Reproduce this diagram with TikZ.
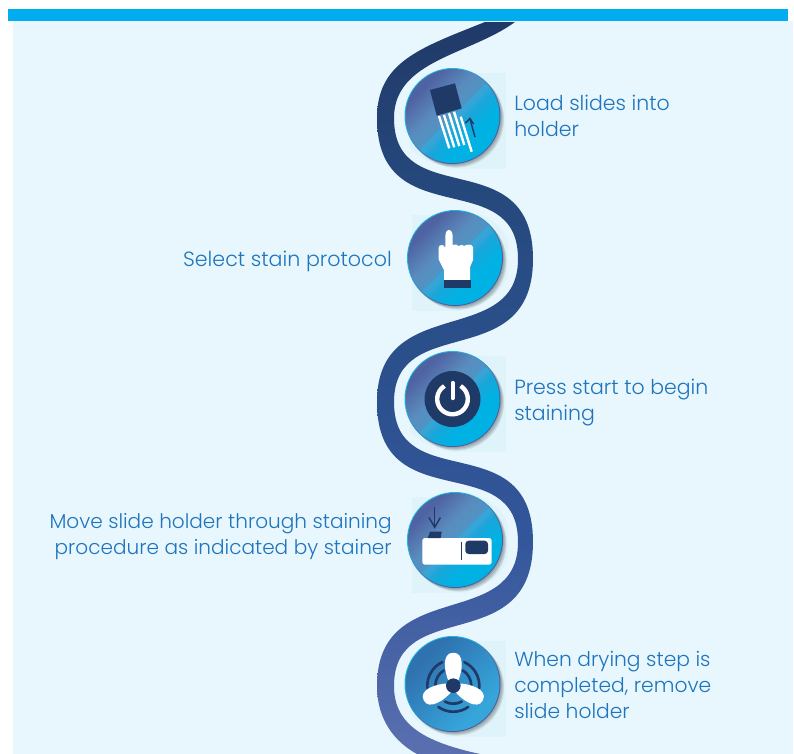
\documentclass[tikz,border=0pt]{standalone}
\usepackage{fontspec}
\setmainfont{Poppins}[UprightFont=* Light]
\usetikzlibrary{calc}
\definecolor{panelbg}{HTML}{E8F7FD}
\definecolor{barblue}{HTML}{00AEEF}
\definecolor{navy}{HTML}{203A68}
\definecolor{tile}{HTML}{DFF3FA}
\definecolor{txt}{HTML}{1F75BD}
\definecolor{rA}{HTML}{5A6FB0}\definecolor{rB}{HTML}{32569A}\definecolor{rC}{HTML}{264A7F}
\definecolor{dA}{HTML}{00B2E4}\definecolor{dB}{HTML}{18A6DA}\definecolor{dC}{HTML}{38A4D6}\definecolor{dD}{HTML}{34A6DA}\definecolor{dE}{HTML}{4F94C4}\definecolor{dF}{HTML}{5A8CBE}\definecolor{dG}{HTML}{4F62A2}
\definecolor{fA}{HTML}{36A6DA}\definecolor{fB}{HTML}{2F72B0}
\definecolor{mA}{HTML}{4F5CA0}\definecolor{mB}{HTML}{1EB6E0}
\pgfdeclareverticalshading{ribbonshade}{100bp}{
  color(0bp)=(rA);color(25bp)=(rA);color(40bp)=(rB);color(62bp)=(rC);color(75bp)=(navy);color(100bp)=(navy)}
\pgfdeclareverticalshading{discshade}{100bp}{
  color(0bp)=(dA);color(35bp)=(dA);color(44bp)=(dB);color(48bp)=(dC);color(49.5bp)=(dD);color(50.5bp)=(dE);color(58bp)=(dF);color(72bp)=(dG);color(100bp)=(dG)}
\pgfdeclareverticalshading{fanshade}{100bp}{
  color(0bp)=(fA);color(30bp)=(fA);color(70bp)=(fB);color(100bp)=(fB)}
\pgfdeclareverticalshading{rimshade}{100bp}{
  color(0bp)=(mA);color(35bp)=(mA);color(65bp)=(mB);color(100bp)=(mB)}
\tikzset{
  x=0.75pt,y=-0.75pt,
  tilebox/.style={fill=tile,draw=none},
  steplabel/.style={font=\fontsize{15.2pt}{19.5pt}\selectfont,text=txt,inner sep=0pt},
  icon/.style={fill=navy,draw=none},
  iconline/.style={draw=navy,line width=1.1pt},
  whiteline/.style={draw=white,line width=1.8pt},
  fanarc/.style={draw=navy,line width=2pt,line cap=round},
}
\newcommand{\steptile}[2]{\fill[tilebox] ($(#1,#2)+(-43,-43)$) rectangle ($(#1,#2)+(53,53)$);}
\newcommand{\stepdisc}[4]{% x y name shading
  \foreach \k in {1,...,4}{\fill[black,opacity=.09] ($(#1,#2)+(\k*.9,\k*.9)$) circle[radius=48];}
  \shade[shading=rimshade,shading angle=45] (#1,#2) circle[radius=48];
  \shade[shading=#4,shading angle=45] (#1,#2) coordinate (#3) circle[radius=47];
}
\begin{document}
\begin{tikzpicture}
\useasboundingbox (0,0) rectangle (794,754);
\fill[white] (0,0) rectangle (794,754);
\fill[panelbg] (13,21) rectangle (793,754);
\steptile{452.5}{116}
\steptile{455}{258}
\steptile{452.5}{399}
\steptile{455}{540}
\steptile{452.5}{684}
% ribbon
\shade[shading=ribbonshade,preaction={draw=panelbg,line width=12pt}]
  (485,22) .. controls (420,48) and (377,62) .. (377,118)
  .. controls (377,236) and (518,164) .. (518,259)
  .. controls (518,349) and (377,292) .. (377,402)
  .. controls (377,520) and (518,447) .. (518,542)
  .. controls (518,632) and (377,576) .. (377,686)
  .. controls (377,720) and (395,742) .. (417,754)
  -- (480,754)
  .. controls (425,742) and (394,725) .. (394,686)
  .. controls (394,595) and (533,659) .. (533,542)
  .. controls (533,424) and (394,497) .. (394,402)
  .. controls (394,311) and (533,375) .. (533,259)
  .. controls (533,141) and (394,213) .. (394,118)
  .. controls (394,60) and (470,55) .. (515,22)
  -- cycle;
\fill[barblue] (8,9) rectangle (788,21);
\fill[white] (0,0) rectangle (794,9);
% discs
\stepdisc{452.5}{116}{disca}{discshade}
\stepdisc{455}{258}{discb}{discshade}
\stepdisc{452.5}{399}{discc}{discshade}
\stepdisc{455}{540}{discd}{discshade}
\stepdisc{452.5}{684}{disce}{fanshade}
% icon 1
\fill[icon] (430,90) -- (455,83.3) -- (461.7,108.3) -- (436.7,115.7) -- cycle;
\foreach \a/\b/\c/\d in {439/116/449.3/148.3,444/115/454.3/147.3,449/113.3/459.3/146,454/111.7/464.3/145,460.7/116.7/471.7/151.7}{
  \draw[whiteline] (\a,\b) -- (\c,\d);}
\draw[iconline] (475,137) -- (470,119);
\draw[iconline] (465.5,123) -- (470,118.5) -- (473.5,124);
% icon 2
\fill[white] (445.5,250) .. controls (445.5,248) and (445,240) .. (445.5,235)
  .. controls (446,228) and (452,228) .. (452.5,235) -- (452.5,245)
  .. controls (456,244) and (458,245) .. (458.5,246)
  .. controls (461,244) and (463,245) .. (464,246)
  .. controls (467,244) and (472,244) .. (473,247)
  -- (473,260) -- (470,267) -- (470,281) -- (444,281) -- (444,270) -- (438.5,259) -- (438.5,248)
  .. controls (439,244) and (444,244) .. (445.5,248) -- cycle;
\fill[icon] (444,280) rectangle (471,287.5);
% icon 3
\fill[icon] (discc) circle[radius=28];
\draw[white,line width=3.3pt] ($(discc)+(-58:15.3)$) arc[start angle=-58,end angle=238,radius=15.3];
\draw[white,line width=3.3pt,line cap=round] (452.7,383) -- (452.7,398);
% icon 4
\fill[white,rounded corners=2pt] (422.3,538) rectangle (491.7,564.7);
\fill[icon,rounded corners=2.5pt] (465.3,540.7) rectangle (488,554);
\draw[iconline] (461.7,542) -- (461.7,560);
\fill[icon] (430,531.7) -- (441.7,531.7) -- (440.7,538) -- (427.7,538) -- cycle;
\draw[iconline] (434.7,507.3) -- (434.7,527.3);
\draw[iconline] (429,517.5) -- (434.7,527.3) -- (440.4,517.5);
% icon 5
\foreach \s in {30,150,270}{
  \draw[fanarc] ($(453.3,685.7)+(-\s-35:26)$) arc[start angle=-\s-35,end angle=-\s+35,radius=26];
  \draw[fanarc] ($(453.3,685.7)+(-\s-28:18)$) arc[start angle=-\s-28,end angle=-\s+28,radius=18];
}
\foreach \r in {0,116,-116}{
  \fill[white,shift={(453.3,685.7)},rotate=\r] (-4.5,-4) .. controls (-9,-14) and (-12,-33) .. (0,-33) .. controls (12,-33) and (9,-14) .. (4.5,-4) -- cycle;
}
\fill[icon] (453.3,685.7) circle[radius=7.3];
% labels
\node[steplabel,font=\fontsize{15.35pt}{19.5pt}\selectfont,align=left,anchor=west] (la) at (514,116) {Load slides into\\holder};
\node[steplabel,font=\fontsize{15.45pt}{19.5pt}\selectfont,align=right,anchor=east] (lb) at (392,261) {Select stain protocol};
\node[steplabel,font=\fontsize{15.35pt}{19.5pt}\selectfont,align=left,anchor=west] (lc) at (514,403) {Press start to begin\\staining};
\node[steplabel,font=\fontsize{15.05pt}{19.5pt}\selectfont,align=right,anchor=east] (ld) at (392,536.5) {Move slide holder through staining\\procedure as indicated by stainer};
\node[steplabel,align=left,anchor=west] (le) at (514,685) {When drying step is\\completed, remove\\slide holder};
\end{tikzpicture}
\end{document}
